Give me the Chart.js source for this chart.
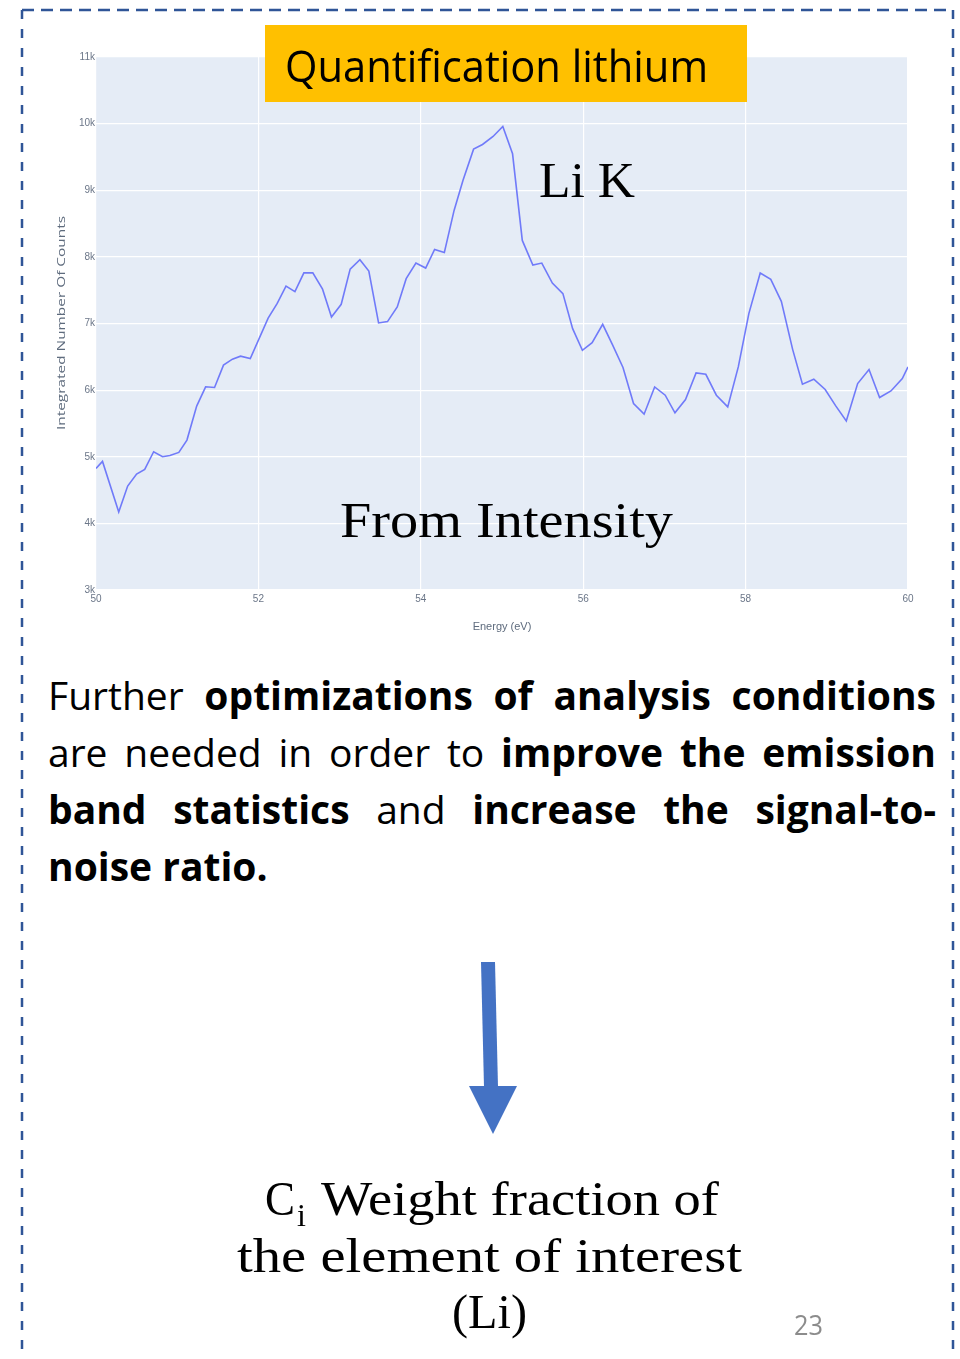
<!DOCTYPE html>
<html>
<head>
<meta charset="utf-8">
<script src="https://cdn.jsdelivr.net/npm/chart.js@4.4.0/dist/chart.umd.min.js"></script>
<style>
  html, body { margin: 0; padding: 0; background: #fff; }
  #page { position: relative; width: 960px; height: 1359px; overflow: hidden; }
  #chartBox { position: absolute; left: 0; top: 0; width: 960px; height: 660px; }
  #overlay { position: absolute; left: 0; top: 0; pointer-events: none; }
  .para { position: absolute; left: 48px; top: 666px; width: 888px;
          font-family: "Open Sans", sans-serif; font-size: 39px; line-height: 57px; color: #000; }
  .para div { text-align: justify; text-align-last: justify; }
  .para div.last { text-align: left; text-align-last: left; }
  .para b { font-weight: 700; }
</style>
</head>
<body>
<div id="page">
  <div id="chartBox"><canvas id="spectrum" width="960" height="660"></canvas></div>

  <div class="para">
    <div>Further <b>optimizations of analysis conditions</b></div>
    <div>are needed in order to <b>improve the emission</b></div>
    <div><b>band statistics</b> and <b>increase the signal-to-</b></div>
    <div class="last"><b>noise ratio.</b></div>
  </div>

  <svg id="overlay" width="960" height="1359" xmlns="http://www.w3.org/2000/svg">
    <!-- dashed frame -->
    <line x1="22" y1="10" x2="953" y2="10" stroke="#2f5597" stroke-width="2.5" stroke-dasharray="12 7"/>
    <line x1="22" y1="10" x2="22" y2="1359" stroke="#2f5597" stroke-width="2.5" stroke-dasharray="9 10"/>
    <line x1="953" y1="10" x2="953" y2="1359" stroke="#2f5597" stroke-width="2.5" stroke-dasharray="9 10"/>

    <!-- y axis title, stretched along the axis -->
    <text transform="translate(65,430) rotate(-90)" font-family="Open Sans" font-size="11.5" fill="#5e6b7d"
          textLength="214" lengthAdjust="spacingAndGlyphs">Integrated Number Of Counts</text>

    <!-- title banner -->
    <rect x="265" y="25" width="482" height="77" fill="#ffc000"/>
    <text x="285" y="82" font-family="Open Sans" font-size="44" fill="#000"
          textLength="423" lengthAdjust="spacingAndGlyphs">Quantification lithium</text>

    <!-- labels on the plot -->
    <text x="539" y="197" font-family="Liberation Serif" font-size="50" fill="#000"
          textLength="96" lengthAdjust="spacingAndGlyphs">Li K</text>
    <text x="340" y="537" font-family="Liberation Serif" font-size="50" fill="#000"
          textLength="333" lengthAdjust="spacingAndGlyphs">From Intensity</text>

    <!-- arrow -->
    <polygon points="481,962 495,962 498,1087 484,1087" fill="#4472c4"/>
    <polygon points="469,1086 517,1086 493,1134" fill="#4472c4"/>

    <!-- caption -->
    <text x="265" y="1215" font-family="Liberation Serif" font-size="49" fill="#000"
          textLength="30" lengthAdjust="spacingAndGlyphs">C</text>
    <text x="297" y="1226" font-family="Liberation Serif" font-size="32" fill="#000">i</text>
    <text x="321" y="1215" font-family="Liberation Serif" font-size="49" fill="#000"
          textLength="398" lengthAdjust="spacingAndGlyphs">Weight fraction of</text>
    <text x="237" y="1272" font-family="Liberation Serif" font-size="49" fill="#000"
          textLength="505" lengthAdjust="spacingAndGlyphs">the element of interest</text>
    <text x="452" y="1328" font-family="Liberation Serif" font-size="49" fill="#000"
          textLength="75" lengthAdjust="spacingAndGlyphs">(Li)</text>

    <text x="794" y="1335" font-family="Open Sans" font-size="27" fill="#8c8c8c"
          textLength="29" lengthAdjust="spacingAndGlyphs">23</text>
  </svg>
</div>

<script>
// Li K emission band, integrated counts vs energy
const energy = [
  50.00, 50.08, 50.28, 50.39, 50.50, 50.60, 50.71, 50.82, 50.91, 51.02,
  51.12, 51.24, 51.35, 51.46, 51.57, 51.68, 51.78, 51.90, 52.12, 52.23,
  52.34, 52.45, 52.56, 52.67, 52.79, 52.90, 53.02, 53.13, 53.25, 53.36,
  53.48, 53.59, 53.71, 53.82, 53.94, 54.06, 54.17, 54.29, 54.41, 54.52,
  54.65, 54.76, 54.89, 55.01, 55.13, 55.25, 55.38, 55.49, 55.62, 55.75,
  55.87, 55.99, 56.11, 56.24, 56.36, 56.49, 56.62, 56.75, 56.88, 57.01,
  57.13, 57.26, 57.39, 57.51, 57.64, 57.78, 57.91, 58.04, 58.18, 58.31,
  58.44, 58.58, 58.70, 58.84, 58.98, 59.11, 59.24, 59.38, 59.52, 59.65,
  59.79, 59.93, 60.00
];
const counts = [
  4825, 4930, 4170, 4560, 4740, 4810, 5075, 5000, 5020, 5065,
  5250, 5760, 6050, 6040, 6375, 6465, 6510, 6475, 7080, 7298,
  7562, 7478, 7760, 7760, 7515, 7098, 7288, 7817, 7958, 7787,
  7008, 7028, 7248, 7673, 7907, 7832, 8112, 8067, 8697, 9150,
  9617, 9687, 9807, 9957, 9547, 8247, 7877, 7907, 7607, 7448,
  6923, 6598, 6713, 6988, 6683, 6339, 5799, 5639, 6048, 5924,
  5659, 5859, 6258, 6238, 5924, 5748, 6348, 7148, 7757, 7663,
  7333, 6608, 6088, 6163, 6009, 5763, 5538, 6099, 6309, 5889,
  5988, 6174, 6348
];
const xRange = [50, 60];
const yRange = [3000, 11000];

const points = energy.map((e, i) => ({ x: e, y: counts[i] }));

const tickFont = { family: "'Liberation Sans Narrow', 'Liberation Sans', sans-serif", size: 10 };
const tickColor = "#6b7688";

// plotly-like light plot background
const plotBg = {
  id: "plotBg",
  beforeDraw(chart) {
    const { ctx, chartArea: a } = chart;
    ctx.save();
    ctx.fillStyle = "#e5ecf6";
    ctx.fillRect(a.left, a.top, a.right - a.left, a.bottom - a.top);
    ctx.restore();
  },
};

new Chart(document.getElementById("spectrum").getContext("2d"), {
  type: "line",
  data: {
    datasets: [
      {
        data: points,
        borderColor: "rgba(99, 110, 250, 0.9)",
        borderWidth: 1.6,
        pointRadius: 0,
        tension: 0,
        fill: false,
      },
    ],
  },
  options: {
    responsive: false,
    animation: false,
    layout: { padding: { left: 50, right: 52, top: 57, bottom: 20 } },
    plugins: { legend: { display: false }, tooltip: { enabled: false } },
    scales: {
      x: {
        type: "linear",
        min: xRange[0],
        max: xRange[1],
        afterFit: (s) => { s.height = 50; },
        grid: { color: "#ffffff", lineWidth: 1.2, drawTicks: false },
        border: { display: false },
        ticks: { stepSize: 2, padding: 3, font: tickFont, color: tickColor, maxRotation: 0 },
        title: {
          display: true,
          text: "Energy (eV)",
          color: "#5e6b7d",
          font: { family: "'Liberation Sans Narrow', 'Liberation Sans', sans-serif", size: 11 },
          padding: { top: 0, bottom: 6 },
        },
      },
      y: {
        min: yRange[0],
        max: yRange[1],
        afterFit: (s) => { s.width = 46; },
        grid: { color: "#ffffff", lineWidth: 1.2, drawTicks: false },
        border: { display: false },
        ticks: {
          stepSize: 1000,
          padding: 1,
          font: tickFont,
          color: tickColor,
          callback: (v) => v / 1000 + "k",
        },
        title: { display: false },
      },
    },
  },
  plugins: [plotBg],
});
</script>
</body>
</html>
